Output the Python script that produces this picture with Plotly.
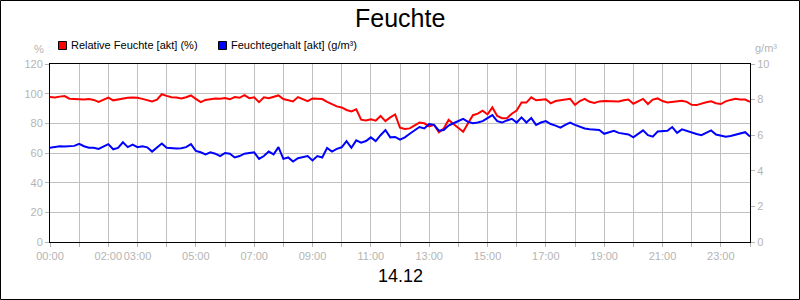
import pandas as pd
import plotly.graph_objects as go

# ---------------- data ----------------
day = "2024-12-14"
start_time = day + " 00:00"
n_points = 145  # 10-minute samples 00:00 .. 24:00

rel_feuchte = [
    97.7, 97.5, 98.0, 98.4, 96.6, 96.4, 96.2, 96.0, 96.4, 95.8,
    94.5, 96.0, 97.4, 95.5, 96.2, 96.8, 97.2, 97.5, 97.3, 96.5,
    95.8, 94.8, 96.0, 99.6, 98.5, 97.6, 97.4, 96.8, 97.6, 98.8,
    96.5, 94.3, 95.8, 96.4, 96.8, 96.6, 97.0, 96.2, 97.7, 97.2,
    99.0, 97.0, 97.5, 94.3, 97.5, 97.0, 98.0, 98.8, 96.4, 95.6,
    94.8, 97.7, 96.6, 95.0, 96.8, 96.6, 96.4, 94.5, 93.0, 91.4,
    90.7, 89.0, 88.0, 89.5, 82.5, 82.0, 82.7, 81.8, 85.0, 81.5,
    84.0, 86.0, 77.0, 76.2, 76.6, 78.5, 80.5, 80.0, 78.0, 79.0,
    74.0, 76.5, 82.3, 79.5, 76.6, 74.3, 80.0, 85.5, 86.5, 88.5,
    86.0, 90.7, 85.0, 83.5, 83.5, 86.5, 88.6, 94.0, 94.0, 97.5,
    95.5, 96.0, 96.2, 93.5, 95.0, 95.5, 96.2, 96.5, 92.5, 95.0,
    96.5, 94.5, 93.8, 94.8, 95.0, 95.0, 95.3, 94.8, 95.5, 96.0,
    93.2, 95.0, 96.5, 93.0, 96.0, 96.8, 95.0, 94.0, 94.5, 95.0,
    95.2, 94.5, 92.5, 92.3, 93.5, 94.2, 94.8, 93.6, 93.0, 94.8,
    95.8, 96.5, 96.0, 96.0, 94.5,
]

feuchtegehalt = [
    5.30, 5.33, 5.38, 5.36, 5.38, 5.40, 5.52, 5.38, 5.30, 5.30,
    5.23, 5.38, 5.50, 5.21, 5.29, 5.60, 5.33, 5.47, 5.33, 5.38,
    5.32, 5.08, 5.32, 5.53, 5.29, 5.25, 5.25, 5.27, 5.33, 5.50,
    5.12, 5.04, 4.92, 5.04, 4.96, 4.82, 5.00, 4.96, 4.75, 4.83,
    4.96, 5.00, 5.04, 4.67, 4.83, 5.08, 4.92, 5.33, 4.67, 4.75,
    4.52, 4.71, 4.79, 4.83, 4.58, 4.83, 4.75, 5.28, 5.08, 5.23,
    5.32, 5.67, 5.29, 5.71, 5.58, 5.67, 5.88, 5.67, 6.00, 6.29,
    5.88, 5.90, 5.75, 5.88, 6.08, 6.29, 6.46, 6.38, 6.63, 6.58,
    6.25, 6.29, 6.54, 6.67, 6.79, 6.92, 6.75, 6.67, 6.71, 6.79,
    6.96, 7.13, 6.79, 6.71, 6.83, 6.92, 6.71, 7.00, 6.71, 6.96,
    6.58, 6.71, 6.79, 6.63, 6.54, 6.42, 6.58, 6.71, 6.58, 6.46,
    6.38, 6.33, 6.29, 6.29, 6.08, 6.17, 6.25, 6.13, 6.07, 6.04,
    5.88, 6.08, 6.27, 6.00, 5.92, 6.21, 6.23, 6.25, 6.46, 6.13,
    6.33, 6.23, 6.17, 6.07, 6.00, 6.13, 6.27, 6.04, 5.96, 5.92,
    5.96, 6.04, 6.13, 6.17, 5.92,
]

x_tick_hours = list(range(25))
x_tick_labels = ["00:00", "", "02:00", "03:00", "", "05:00", "", "07:00", "",
                 "09:00", "", "11:00", "", "13:00", "", "15:00", "", "17:00", "",
                 "19:00", "", "21:00", "", "23:00", ""]
y_left_ticks = [0, 20, 40, 60, 80, 100, 120]
y_right_ticks = [0, 2, 4, 6, 8, 10]

name_rel = "Relative Feuchte [akt] (%)"
name_abs = "Feuchtegehalt [akt] (g/m³)"
title_text = "Feuchte"
date_label = "14.12"

# ---------------- styling ----------------
RED = "#ff0000"
BLUE = "#0000ff"
GRID = "#c0c0c0"
TICKCOL = "#b4b4b4"
FONT = "Liberation Sans, Arial, sans-serif"

times = pd.date_range(start_time, periods=n_points, freq="10min")
t0 = pd.Timestamp(start_time)
tickvals = [t0 + pd.Timedelta(hours=h) for h in x_tick_hours]

W, H = 800, 300
ML, MR, MT, MB = 50, 50, 64, 58
PW, PH = W - ML - MR, H - MT - MB

def px2paper_x(px):
    return (px - ML) / PW

def px2paper_y(py):
    return (H - MB - py) / PH

fig = go.Figure()
fig.add_trace(go.Scatter(x=times, y=rel_feuchte, mode="lines", name=name_rel,
                         line=dict(color=RED, width=2), yaxis="y", showlegend=False))
fig.add_trace(go.Scatter(x=times, y=feuchtegehalt, mode="lines", name=name_abs,
                         line=dict(color=BLUE, width=2), yaxis="y2", showlegend=False))

fig.update_layout(
    width=W, height=H,
    margin=dict(l=ML, r=MR, t=MT, b=MB, pad=0),
    paper_bgcolor="white", plot_bgcolor="white",
    font=dict(family=FONT, size=11, color=TICKCOL),
    xaxis=dict(
        type="date",
        range=[tickvals[0], tickvals[-1]],
        tickmode="array", tickvals=tickvals, ticktext=x_tick_labels,
        tickangle=0,
        showgrid=True, gridcolor=GRID, gridwidth=1,
        ticks="outside", ticklen=4, tickcolor=TICKCOL,
        showline=True, linecolor="black", linewidth=1, mirror=True,
        tickfont=dict(family=FONT, size=11, color=TICKCOL),
        zeroline=False,
    ),
    yaxis=dict(
        range=[0, 120], tickmode="array", tickvals=y_left_ticks,
        showgrid=True, gridcolor=GRID, gridwidth=1,
        ticks="outside", ticklen=4, tickcolor=TICKCOL,
        showline=True, linecolor="black", linewidth=1, mirror=True,
        tickfont=dict(family=FONT, size=11, color=TICKCOL),
        zeroline=False,
    ),
    yaxis2=dict(
        range=[0, 10], tickmode="array", tickvals=y_right_ticks,
        overlaying="y", side="right", showgrid=False,
        ticks="outside", ticklen=4, tickcolor=TICKCOL,
        showline=False,
        tickfont=dict(family=FONT, size=11, color=TICKCOL),
        zeroline=False,
    ),
)

annotations = [
    dict(text=title_text, x=0.5, y=px2paper_y(18), xref="paper", yref="paper",
         showarrow=False, xanchor="center", yanchor="middle",
         font=dict(family=FONT, size=25, color="black")),
    dict(text=date_label, x=0.5, y=px2paper_y(276), xref="paper", yref="paper",
         showarrow=False, xanchor="center", yanchor="middle",
         font=dict(family=FONT, size=18, color="black")),
    dict(text="%", x=px2paper_x(46), y=px2paper_y(49), xref="paper", yref="paper",
         showarrow=False, xanchor="right", yanchor="middle",
         font=dict(family=FONT, size=11, color=TICKCOL)),
    dict(text="g/m³", x=px2paper_x(753), y=px2paper_y(48), xref="paper", yref="paper",
         showarrow=False, xanchor="left", yanchor="middle",
         font=dict(family=FONT, size=11, color=TICKCOL)),
    dict(text=name_rel, x=px2paper_x(69), y=px2paper_y(45), xref="paper", yref="paper",
         showarrow=False, xanchor="left", yanchor="middle",
         font=dict(family=FONT, size=11, color="black")),
    dict(text=name_abs, x=px2paper_x(229), y=px2paper_y(45), xref="paper", yref="paper",
         showarrow=False, xanchor="left", yanchor="middle",
         font=dict(family=FONT, size=11, color="black")),
]

shapes = [
    # outer frame
    dict(type="rect", xref="paper", yref="paper",
         x0=px2paper_x(0.5), x1=px2paper_x(W - 0.5),
         y0=px2paper_y(H - 0.5), y1=px2paper_y(0.5),
         line=dict(color="black", width=1), fillcolor="rgba(0,0,0,0)", layer="above"),
    # legend squares
    dict(type="rect", xref="paper", yref="paper",
         x0=px2paper_x(58.5), x1=px2paper_x(66.5),
         y0=px2paper_y(49.5), y1=px2paper_y(41.5),
         line=dict(color="black", width=1), fillcolor=RED),
    dict(type="rect", xref="paper", yref="paper",
         x0=px2paper_x(218.5), x1=px2paper_x(226.5),
         y0=px2paper_y(49.5), y1=px2paper_y(41.5),
         line=dict(color="black", width=1), fillcolor=BLUE),
]

fig.update_layout(annotations=annotations, shapes=shapes)
fig.write_html("out.html")
